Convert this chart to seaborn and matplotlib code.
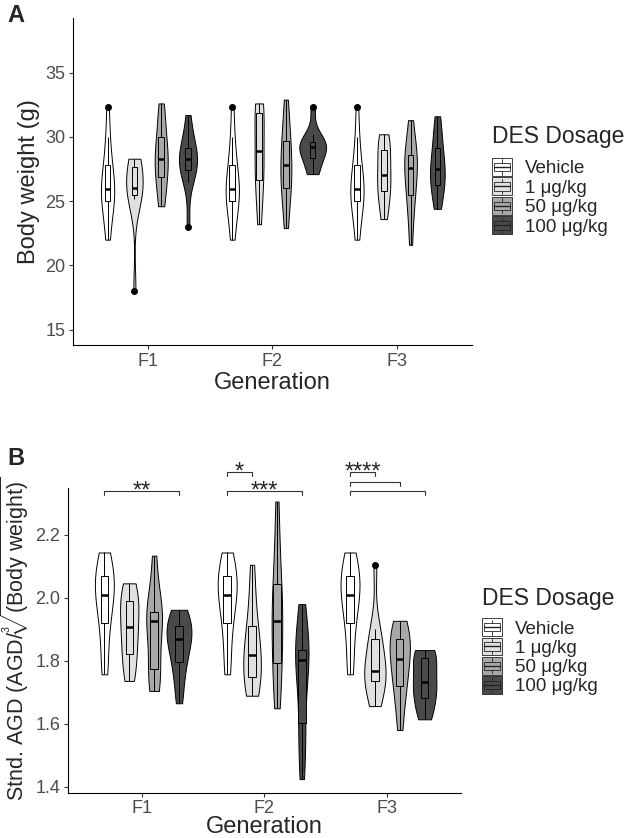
import numpy as np
import pandas as pd
import matplotlib
matplotlib.use('Agg')
import matplotlib.pyplot as plt
import seaborn as sns
from matplotlib.legend_handler import HandlerBase
from matplotlib.patches import Rectangle, Patch
from matplotlib.lines import Line2D

generations = ['F1', 'F2', 'F3']
dosages = ['Vehicle', '1 μg/kg', '50 μg/kg', '100 μg/kg']
fill_colors = ['#FFFFFF', '#E0E0E0', '#A8A8A8', '#4A4A4A']

bw_vehicle = [22.0, 23.0, 24.5, 25.0, 25.3, 25.6, 25.95, 26.3, 26.9, 27.8, 28.6, 30.0, 32.3]
bw_f1_1 = [18.0, 25.2, 25.4, 25.6, 25.9, 26.0, 26.5, 27.5, 27.8, 28.2, 28.3]
bw_f1_50 = [24.6, 25.5, 26.5, 27.2, 28.0, 28.3, 28.6, 29.5, 30.5, 31.5, 32.6]
bw_f1_100 = [23.0, 26.5, 27.2, 27.6, 28.0, 28.3, 28.4, 28.8, 29.5, 30.2, 31.7]
bw_f2_1 = [23.2, 25.0, 26.4, 26.9, 28.0, 28.9, 29.5, 31.7, 32.0, 32.3, 32.6]
bw_f2_50 = [22.9, 24.5, 25.8, 26.3, 27.0, 27.8, 28.3, 29.3, 30.1, 31.2, 32.9]
bw_f2_100 = [27.1, 27.3, 28.2, 28.5, 29.0, 29.2, 29.3, 29.5, 29.7, 30.2, 32.3]
bw_f3_1 = [23.6, 24.5, 25.5, 26.0, 26.6, 27.0, 27.8, 28.7, 29.3, 29.8, 30.2]
bw_f3_50 = [21.6, 24.0, 25.0, 25.9, 27.0, 27.6, 28.0, 28.4, 28.8, 29.8, 31.3]
bw_f3_100 = [24.4, 25.3, 26.0, 26.5, 27.2, 27.5, 27.8, 28.8, 29.5, 30.5, 31.6]

# panel B: standardised AGD
agd_vehicle = [1.757, 1.80, 1.88, 1.92, 1.96, 2.00, 2.01, 2.03, 2.05, 2.07, 2.09, 2.12, 2.144]
agd_f1_1 = [1.736, 1.76, 1.80, 1.82, 1.86, 1.89, 1.906, 1.93, 1.97, 1.99, 2.00, 2.03, 2.046]
agd_f1_50 = [1.704, 1.72, 1.75, 1.773, 1.82, 1.88, 1.925, 1.94, 1.95, 1.956, 1.97, 2.05, 2.134]
agd_f1_100 = [1.665, 1.72, 1.77, 1.795, 1.83, 1.85, 1.869, 1.88, 1.90, 1.909, 1.93, 1.95, 1.962]
agd_f2_1 = [1.689, 1.70, 1.72, 1.748, 1.78, 1.80, 1.819, 1.84, 1.87, 1.909, 1.95, 2.02, 2.105]
agd_f2_50 = [1.649, 1.70, 1.75, 1.792, 1.85, 1.90, 1.927, 1.96, 2.00, 2.043, 2.10, 2.20, 2.306]
agd_f2_100 = [1.424, 1.50, 1.56, 1.601, 1.70, 1.78, 1.803, 1.81, 1.82, 1.834, 1.88, 1.93, 1.98]
agd_f3_1 = [1.656, 1.68, 1.72, 1.736, 1.75, 1.76, 1.768, 1.78, 1.82, 1.869, 1.88, 1.90, 2.103]
agd_f3_50 = [1.58, 1.65, 1.70, 1.721, 1.76, 1.79, 1.805, 1.83, 1.85, 1.869, 1.89, 1.91, 1.927]
agd_f3_100 = [1.614, 1.63, 1.66, 1.683, 1.70, 1.72, 1.734, 1.75, 1.78, 1.808, 1.82, 1.83, 1.834]

# significance brackets in B: generation, group from, group to, bracket height, label
sig_brackets = [
    ('F1', 'Vehicle', '100 μg/kg', 2.340, '**'),
    ('F2', 'Vehicle', '1 μg/kg', 2.399, '*'),
    ('F2', 'Vehicle', '100 μg/kg', 2.340, '***'),
    ('F3', 'Vehicle', '1 μg/kg', 2.399, '****'),
    ('F3', 'Vehicle', '50 μg/kg', 2.369, ''),
    ('F3', 'Vehicle', '100 μg/kg', 2.340, ''),
]


def long_table(groups):
    rows = []
    for gen, series in zip(generations, groups):
        for dose, vals in zip(dosages, series):
            for v in vals:
                rows.append((gen, dose, v))
    return pd.DataFrame(rows, columns=['Generation', 'Dosage', 'value'])


df_bw = long_table([
    [bw_vehicle, bw_f1_1, bw_f1_50, bw_f1_100],
    [bw_vehicle, bw_f2_1, bw_f2_50, bw_f2_100],
    [bw_vehicle, bw_f3_1, bw_f3_50, bw_f3_100],
])
df_agd = long_table([
    [agd_vehicle, agd_f1_1, agd_f1_50, agd_f1_100],
    [agd_vehicle, agd_f2_1, agd_f2_50, agd_f2_100],
    [agd_vehicle, agd_f3_1, agd_f3_50, agd_f3_100],
])


class BoxKey(HandlerBase):
    # ggplot style key: filled square with a small boxplot drawn inside
    def create_artists(self, legend, orig_handle, xd, yd, w, h, fontsize, trans):
        x0, y0 = -xd, -yd
        fc = orig_handle.get_facecolor()
        kw = dict(transform=trans)
        out = [Rectangle((x0, y0), w, h, facecolor=fc, edgecolor='#222222', lw=0.6, **kw),
               Rectangle((x0 + 0.12 * w, y0 + 0.27 * h), 0.76 * w, 0.46 * h,
                         facecolor=fc, edgecolor='#222222', lw=0.6, **kw),
               Line2D([x0 + w / 2] * 2, [y0 + 0.08 * h, y0 + 0.27 * h], color='#222222', lw=0.6, **kw),
               Line2D([x0 + w / 2] * 2, [y0 + 0.73 * h, y0 + 0.92 * h], color='#222222', lw=0.6, **kw),
               Line2D([x0 + 0.12 * w, x0 + 0.88 * w], [y0 + h / 2] * 2, color='#222222', lw=1.0, **kw)]
        return out


sns.set_style('ticks')
plt.rcParams['font.family'] = ['Liberation Sans', 'DejaVu Sans']
plt.rcParams['mathtext.fontset'] = 'custom'
plt.rcParams['mathtext.rm'] = 'Liberation Sans'
plt.rcParams['mathtext.it'] = 'Liberation Sans:italic'

fig = plt.figure(figsize=(6.33, 8.38), dpi=100)
ax_a = fig.add_axes([0.1153, 0.5883, 0.6303, 0.3902])
ax_b = fig.add_axes([0.1074, 0.0541, 0.6209, 0.3636])


def draw_panel(ax, df, width, box_gap):
    sns.violinplot(data=df, x='Generation', y='value', hue='Dosage', order=generations,
                   hue_order=dosages, palette=fill_colors, saturation=1, cut=0, inner=None,
                   density_norm='area', common_norm=True, bw_method='silverman', bw_adjust=0.9,
                   width=width, linecolor='black', linewidth=0.7, legend=False, ax=ax)
    sns.boxplot(data=df, x='Generation', y='value', hue='Dosage', order=generations,
                hue_order=dosages, palette=fill_colors, saturation=1, width=width, gap=box_gap,
                linecolor='black', linewidth=0.7, fliersize=4,
                flierprops=dict(marker='o', markerfacecolor='black', markeredgecolor='black'),
                medianprops=dict(linewidth=1.8), capprops=dict(linewidth=0),
                legend=False, ax=ax)
    ax.set_xlim(-0.6, 2.6)
    sns.despine(ax=ax)
    for s in ['left', 'bottom']:
        ax.spines[s].set_color('black')
        ax.spines[s].set_linewidth(0.8)
    ax.tick_params(axis='both', length=3, width=0.8, color='#333333', labelcolor='#4D4D4D',
                   labelsize=13, pad=2.5)
    handles = [Patch(facecolor=c, edgecolor='black') for c in fill_colors]
    return handles


def add_legend(ax, handles, anchor, key_h, title_sep):
    leg = ax.legend(handles, dosages, handler_map={Patch: BoxKey()}, title='DES Dosage',
                    title_fontsize=16.5, fontsize=13.5, frameon=False, alignment='left',
                    loc='upper left', bbox_to_anchor=anchor,
                    bbox_transform=fig.transFigure, borderpad=0, borderaxespad=0,
                    handlelength=1.07, handleheight=key_h, handletextpad=0.7, labelspacing=0)
    leg._legend_box.sep = title_sep
    return leg


handles = draw_panel(ax_a, df_bw, 0.86, 0.79)
ax_a.set_ylim(13.8, 39.25)
ax_a.set_yticks([15, 20, 25, 30, 35])
ax_a.set_xlabel('Generation', fontsize=17)
ax_a.set_ylabel('Body weight (g)', fontsize=17)
ax_a.yaxis.set_label_coords(-0.083, 0.5)
ax_a.xaxis.set_label_coords(0.5, -0.082)
add_legend(ax_a, handles, (492 / 633, 1 - 125 / 838), 1.12, 7)

draw_panel(ax_b, df_agd, 0.81, 0.70)
ax_b.set_ylim(1.381, 2.349)
ax_b.set_yticks([1.4, 1.6, 1.8, 2.0, 2.2])
ax_b.set_yticklabels(['1.4', '1.6', '1.8', '2.0', '2.2'])
ax_b.set_xlabel('Generation', fontsize=17)
ax_b.set_ylabel('Stnd. AGD (AGD/$\\sqrt[3]{\\mathrm{(Body\\ weight)}}$', fontsize=15.5)
ax_b.yaxis.set_label_coords(-0.094, 0.505)
ax_b.xaxis.set_label_coords(0.5, -0.078)
add_legend(ax_b, handles, (482 / 633, 1 - 587 / 838), 1.08, 6)

# brackets
slot = 0.81 / len(dosages)
for gen, g1, g2, level, label in sig_brackets:
    gi = generations.index(gen)
    x1 = gi + (dosages.index(g1) - 1.5) * slot
    x2 = gi + (dosages.index(g2) - 1.5) * slot
    drop = 0.013
    ax_b.plot([x1, x1, x2, x2], [level - drop, level, level, level - drop], color='#333333',
              lw=0.8, clip_on=False)
    if label:
        ax_b.annotate(label, ((x1 + x2) / 2, level), xytext=(0, -4.5), textcoords='offset points',
                      ha='center', va='baseline', fontsize=17, annotation_clip=False)

fig.text(0.011, 1 - 4 / 838, 'A', fontsize=17, fontweight='bold', va='top', ha='left')
fig.text(0.011, 1 - 447 / 838, 'B', fontsize=17, fontweight='bold', va='top', ha='left')

fig.savefig('out.png', dpi=100)
